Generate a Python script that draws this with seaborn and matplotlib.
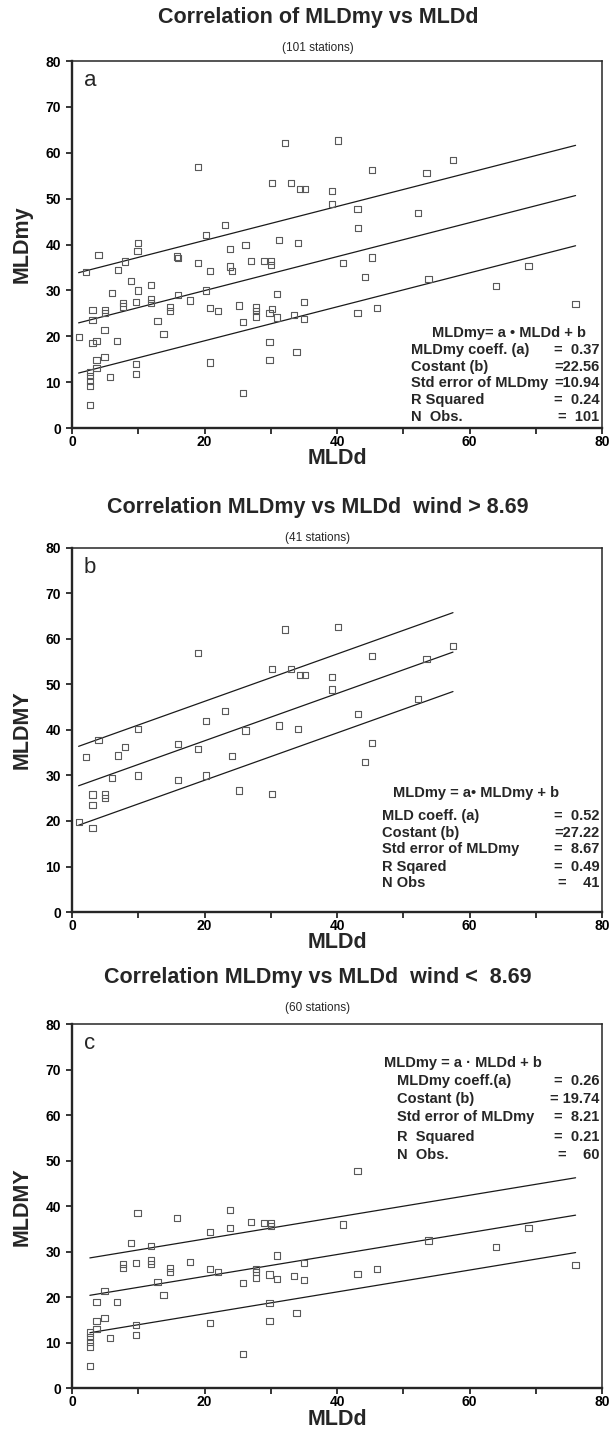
import numpy as np
import pandas as pd
import matplotlib
matplotlib.use("Agg")
import matplotlib.pyplot as plt
import seaborn as sns

# stations with wind > 8.69 (panel b)
mld_d_high = [32.1, 19.0, 30.2, 33.1, 23.1, 20.2, 10.0, 4.0, 26.2, 31.2, 2.1, 8.0, 7.0, 16.0,
              19.0, 24.2, 6.0, 10.0, 16.0, 20.2, 25.2, 30.2, 3.1, 5.0, 5.0, 3.1, 1.0, 3.1,
              40.2, 45.3, 57.5, 53.5, 34.4, 35.2, 39.2, 39.2, 52.2, 43.2, 34.1, 45.3, 44.2]
mld_my_high = [62.1, 56.9, 53.4, 53.4, 44.2, 42.0, 40.3, 37.8, 39.9, 41.0, 34.0, 36.3, 34.4, 37.0,
               35.9, 34.3, 29.4, 30.0, 29.0, 30.0, 26.7, 26.0, 25.8, 25.8, 25.1, 23.5, 19.8, 18.5,
               62.7, 56.3, 58.5, 55.6, 52.1, 52.1, 51.6, 48.9, 46.8, 43.6, 40.3, 37.2, 33.0]

# stations with wind < 8.69 (panel c)
mld_d_low = [9.9, 15.9, 23.8, 23.8, 20.8, 27.0, 29.0, 30.0, 30.0, 8.9, 11.9, 7.7, 7.7, 9.7,
             11.9, 11.9, 14.8, 14.8, 17.8, 20.8, 22.0, 25.8, 27.8, 27.8, 27.8, 29.8, 31.0, 31.0,
             33.5, 12.9, 4.9, 3.7, 6.8, 13.8, 3.7, 4.9, 3.7, 2.7, 2.7, 2.7, 2.7, 5.7, 9.7, 9.7,
             20.8, 29.8, 29.8, 25.8, 2.7, 33.9, 43.1, 40.9, 53.8, 64.0, 35.0, 35.0, 43.1, 46.0,
             68.9, 76.0]
mld_my_low = [38.6, 37.4, 39.1, 35.2, 34.3, 36.5, 36.4, 36.4, 35.6, 32.0, 31.2, 27.3, 26.5, 27.5,
              28.1, 27.3, 26.4, 25.6, 27.8, 26.2, 25.6, 23.1, 26.3, 25.6, 24.3, 25.0, 24.1, 29.2,
              24.7, 23.3, 21.4, 19.0, 19.0, 20.5, 14.8, 15.5, 13.1, 12.3, 11.3, 10.2, 9.2, 11.1, 14.0, 11.8,
              14.3, 18.7, 14.8, 7.6, 5.0, 16.6, 47.7, 36.0, 32.5, 31.0, 27.5, 23.8, 25.1, 26.2,
              35.3, 27.1]

# regression lines as drawn: slope, intercept, std error
fit_all = [0.37, 22.56, 10.94]
fit_high = [0.52, 27.22, 8.67]
fit_low = [0.24, 19.8, 8.21]

titles = ["Correlation of MLDmy vs MLDd",
          "Correlation MLDmy vs MLDd  wind > 8.69",
          "Correlation MLDmy vs MLDd  wind <  8.69"]
subtitles = ["(101 stations)", "(41 stations)", "(60 stations)"]
letters = ["a", "b", "c"]
ylabels = ["MLDmy", "MLDMY", "MLDMY"]
equations = ["MLDmy= a • MLDd + b", "MLDmy = a• MLDmy + b", "MLDmy = a · MLDd + b"]
stat_names = [["MLDmy coeff. (a)", "Costant (b)", "Std error of MLDmy", "R Squared", "N  Obs."],
              ["MLD coeff. (a)", "Costant (b)", "Std error of MLDmy", "R Sqared", "N Obs"],
              ["MLDmy coeff.(a)", "Costant (b)", "Std error of MLDmy", "R  Squared", "N  Obs."]]
stat_values = [["=  0.37", "=22.56", "=10.94", "=  0.24", "=  101"],
               ["=  0.52", "=27.22", "=  8.67", "=  0.49", "=    41"],
               ["=  0.26", "= 19.74", "=  8.21", "=  0.21", "=    60"]]

df_high = pd.DataFrame({"MLDd": mld_d_high, "MLDmy": mld_my_high})
df_low = pd.DataFrame({"MLDd": mld_d_low, "MLDmy": mld_my_low})
df_all = pd.concat([df_high, df_low], ignore_index=True)

sns.set_style("ticks")
plt.rcParams["font.family"] = ["Liberation Sans", "DejaVu Sans"]

fig = plt.figure(figsize=(6.1, 14.36), dpi=100)
rects = [[0.118, 0.7019, 0.869, 0.2556],
         [0.118, 0.3649, 0.869, 0.2535],
         [0.118, 0.0331, 0.869, 0.2538]]
title_y = [18, 507, 977]
sub_y = [48, 538, 1008]
# text placement in data units: eq (x, y), names x, row ys
eq_pos = [(66, 20.8), (61, 26.2), (59, 71.5)]
name_x = [51.2, 46.8, 49.0]
row_y = [[17.0, 13.4, 9.8, 6.1, 2.4],
         [21.1, 17.4, 13.8, 10.0, 6.3],
         [67.5, 63.5, 59.5, 55.3, 51.3]]

frames = [df_all, df_high, df_low]
fits = [fit_all, fit_high, fit_low]

for i in range(3):
    ax = fig.add_axes(rects[i])
    df = frames[i]
    sns.scatterplot(data=df, x="MLDd", y="MLDmy", ax=ax, marker="s", s=20,
                    facecolors="none", edgecolor="0.35", linewidth=0.8, zorder=3)
    a, b, se = fits[i]
    xs = np.array([df["MLDd"].min(), df["MLDd"].max()])
    for off in (se, 0, -se):
        sns.lineplot(x=xs, y=a * xs + b + off, ax=ax, color="0.1", linewidth=0.9)

    ax.set_xlim(0, 80)
    ax.set_ylim(0, 80)
    ax.set_xticks([0, 20, 40, 60, 80])
    ax.set_xticks([10, 30, 50, 70], minor=True)
    ax.set_yticks(range(0, 81, 10))
    ax.tick_params(axis="both", which="both", direction="out", length=4, width=1.1,
                   colors="black")
    ax.tick_params(axis="x", pad=1, labelsize=10)
    ax.tick_params(axis="y", pad=4, labelsize=10)
    for lab in ax.get_xticklabels() + ax.get_yticklabels():
        lab.set_fontweight("bold")
    for side in ["left", "bottom"]:
        ax.spines[side].set_linewidth(1.7)
    for side in ["top", "right"]:
        ax.spines[side].set_linewidth(1.1)
        ax.spines[side].set_visible(True)

    ax.set_xlabel("MLDd", fontsize=15.5, fontweight="bold")
    ax.set_ylabel(ylabels[i], fontsize=15.5, fontweight="bold")
    ax.xaxis.set_label_coords(0.5, -0.055)
    ax.yaxis.set_label_coords(-0.075, 0.5)

    ax.text(1.8, 75.8, letters[i], fontsize=16, ha="left", va="center")

    ex, ey = eq_pos[i]
    ax.text(ex, ey, equations[i], fontsize=10.5, fontweight="bold", ha="center", va="center")
    for name, val, yy in zip(stat_names[i], stat_values[i], row_y[i]):
        ax.text(name_x[i], yy, name, fontsize=10.5, fontweight="bold", ha="left", va="center")
        ax.text(79.6, yy, val, fontsize=10.5, fontweight="bold", ha="right", va="center",
                color="0.15")

    fig.text(0.521, 1 - title_y[i] / 1436, titles[i], fontsize=15.5, fontweight="bold",
             ha="center", va="center")
    fig.text(0.521, 1 - sub_y[i] / 1436, subtitles[i], fontsize=8.5, ha="center", va="center")

fig.savefig("out.png", dpi=100)
